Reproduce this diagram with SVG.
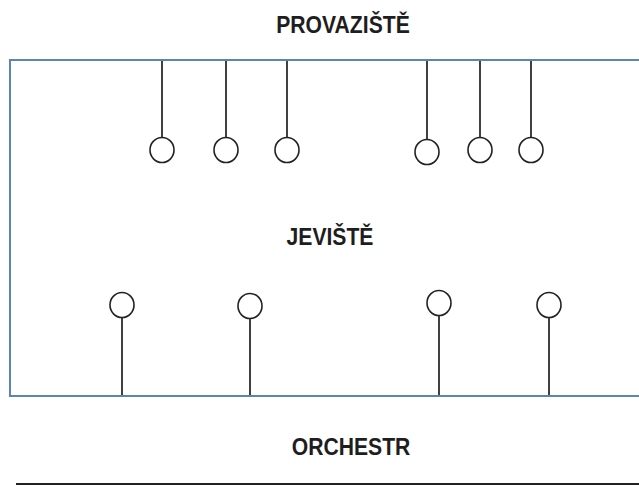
<svg xmlns="http://www.w3.org/2000/svg" width="639" height="485" viewBox="0 0 639 485">
<style>
.lbl{font-family:"Liberation Sans",Arial,sans-serif;font-weight:bold;font-size:23px;fill:#1e1e1e;text-anchor:middle}
.stage{fill:none;stroke:#5b84b8;stroke-width:2}
.rope{stroke:#111;stroke-width:1.6;fill:none}
.lamp{fill:#fff;stroke:#222;stroke-width:1.6}
</style>
<rect width="639" height="485" fill="#fff"/>
<g id="stage">
<rect class="stage" x="10" y="60" width="640" height="336"/>
</g>
<g id="labels">
<text class="lbl" transform="translate(343,33) scale(0.92,1)">PROVAZIŠTĚ</text>
<text class="lbl" transform="translate(330,245) scale(0.92,1)">JEVIŠTĚ</text>
<text class="lbl" transform="translate(351,455) scale(0.92,1)">ORCHESTR</text>
</g>
<g id="connectors">
<line class="rope" x1="162" y1="61" x2="162" y2="137"/>
<line class="rope" x1="226" y1="61" x2="226" y2="137"/>
<line class="rope" x1="287" y1="61" x2="287" y2="137"/>
<line class="rope" x1="427" y1="61" x2="427" y2="139"/>
<line class="rope" x1="480" y1="61" x2="480" y2="137"/>
<line class="rope" x1="531" y1="61" x2="531" y2="137"/>
<line class="rope" x1="122" y1="318" x2="122" y2="395"/>
<line class="rope" x1="250" y1="319" x2="250" y2="395"/>
<line class="rope" x1="439" y1="316" x2="439" y2="395"/>
<line class="rope" x1="549" y1="318" x2="549" y2="395"/>
</g>
<g id="top-lamps">
<ellipse class="lamp" cx="162" cy="150" rx="12" ry="12.5"/>
<ellipse class="lamp" cx="226" cy="150" rx="12" ry="12.5"/>
<ellipse class="lamp" cx="287" cy="150" rx="12" ry="12.5"/>
<ellipse class="lamp" cx="427" cy="152" rx="12" ry="12.5"/>
<ellipse class="lamp" cx="480" cy="150" rx="12" ry="12.5"/>
<ellipse class="lamp" cx="531" cy="150" rx="12" ry="12.5"/>
</g>
<g id="bottom-lamps">
<ellipse class="lamp" cx="122" cy="305" rx="12" ry="12.5"/>
<ellipse class="lamp" cx="250" cy="306" rx="12" ry="12.5"/>
<ellipse class="lamp" cx="439" cy="303" rx="12" ry="12.5"/>
<ellipse class="lamp" cx="549" cy="305" rx="12" ry="12.5"/>
</g>
<g id="orchestra-edge">
<line x1="16" y1="484" x2="639" y2="484" stroke="#222" stroke-width="2"/>
</g>
</svg>
